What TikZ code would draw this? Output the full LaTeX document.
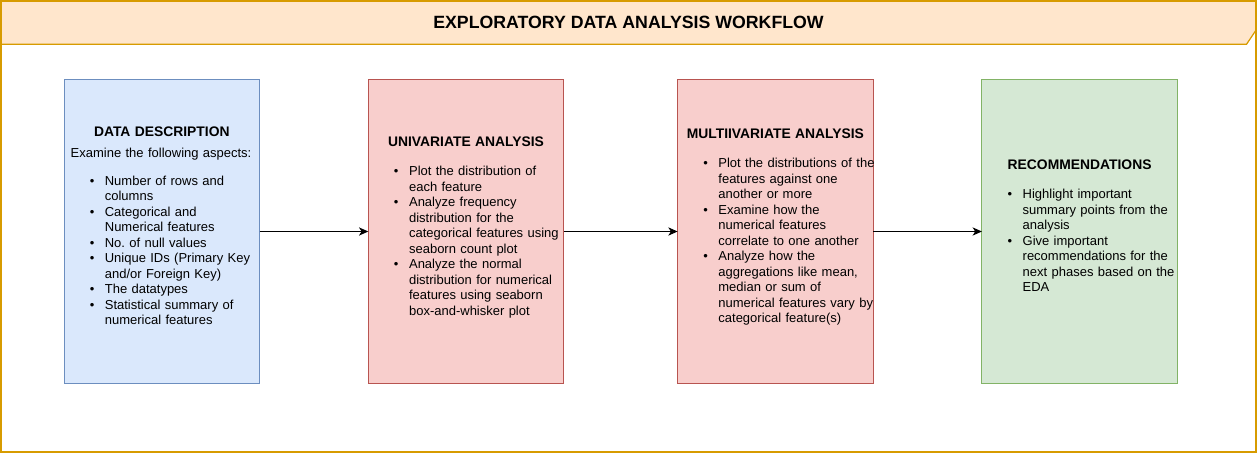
\documentclass[tikz,border=0pt]{standalone}
\usepackage{fontspec}
\setmainfont{Liberation Sans}
\usepackage{xcolor}
\usepackage{tikz}
\usetikzlibrary{positioning, arrows.meta}
\definecolor{headfill}{HTML}{FFE6CC}
\definecolor{headline}{HTML}{D79B00}
\definecolor{bluefill}{HTML}{DAE8FC}
\definecolor{blueline}{HTML}{6C8EBF}
\definecolor{redfill}{HTML}{F8CECC}
\definecolor{redline}{HTML}{B85450}
\definecolor{greenfill}{HTML}{D5E8D4}
\definecolor{greenline}{HTML}{82B366}
\frenchspacing
\newcommand{\edastrut}{\rule[-2.44pt]{0pt}{11.6pt}}
\newcommand{\edahead}[1]{{\centering\bfseries\fontsize{10.4pt}{11.625pt}\selectfont\edastrut#1\par}}
\newcommand{\edaitem}{\par\noindent\llap{\textbullet\hspace{7.9pt}}}

\begin{document}
\begin{tikzpicture}[x=0.75pt, y=-0.75pt,
    stagebox/.style={rectangle, minimum width=146.6pt, minimum height=228pt,
          inner sep=0pt, outer sep=0pt, line width=0.75pt},
    stagetext/.style={text width=150pt, align=left, inner sep=0pt,
          font=\fontsize{9.75pt}{11.625pt}\selectfont, text=black},
    flow/.style={-{Stealth[length=7pt, width=6.2pt, inset=2pt]}, line width=0.75pt}]
    \useasboundingbox (0,0) rectangle (1257,453);
    % frame with notched title bar
    \filldraw[fill=headfill, draw=headline, line width=0.9pt]
      (0.6,0.6) -- (1256.4,0.6) -- (1256.4,29.5) -- (1246.5,44.3) -- (0.6,44.3) -- cycle;
    \draw[headline, line width=1.2pt] (0.8,0.8) rectangle (1256.2,452.2);
    \node[inner sep=0pt, font=\fontsize{13.3pt}{15pt}\selectfont\bfseries] (title)
      at (628.5,22) {EXPLORATORY DATA ANALYSIS WORKFLOW};

    % the four stages
    \node[stagebox, fill=bluefill, draw=blueline] (desc) at (161.8,231.5) {};
    \node[stagebox, fill=redfill, draw=redline, right=81.56pt of desc] (uni) {};
    \node[stagebox, fill=redfill, draw=redline, right=85.4pt of uni] (multi) {};
    \node[stagebox, fill=greenfill, draw=greenline, right=81.6pt of multi] (recom) {};

    \node[stagetext] (desctext) at ([yshift=4pt]desc.center) {%
      \edahead{DATA DESCRIPTION}\vspace{3.75pt}
      \leftskip=6.7pt Examine the following aspects:\par\vspace{9.4pt}
      \leftskip=32.3pt
      \edaitem Number of rows and\\ columns
      \edaitem Categorical and\\ Numerical features
      \edaitem No. of null values
      \edaitem Unique IDs (Primary Key\\ and/or Foreign Key)
      \edaitem The datatypes
      \edaitem Statistical summary of\\ numerical features\edastrut\par};
    \node[stagetext] (unitext) at ([yshift=4pt]uni.center) {%
      \edahead{UNIVARIATE ANALYSIS}\vspace{10.35pt}
      \leftskip=32.3pt
      \edaitem Plot the distribution of\\ each feature
      \edaitem Analyze frequency\\ distribution for the\\ categorical features using\\ seaborn count plot
      \edaitem Analyze the normal\\ distribution for numerical\\ features using seaborn\\ box-and-whisker plot\edastrut\par};
    \node[stagetext] (multitext) at ([yshift=4pt]multi.center) {%
      \edahead{MULTIIVARIATE ANALYSIS}\vspace{10.35pt}
      \leftskip=32.3pt
      \edaitem Plot the distributions of the\\ features against one\\ another or more
      \edaitem Examine how the\\ numerical features\\ correlate to one another
      \edaitem Analyze how the\\ aggregations like mean,\\ median or sum of\\ numerical features vary by\\ categorical feature(s)\edastrut\par};
    \node[stagetext] (recomtext) at ([yshift=4pt]recom.center) {%
      \edahead{RECOMMENDATIONS}\vspace{10.35pt}
      \leftskip=32.3pt
      \edaitem Highlight important\\ summary points from the\\ analysis
      \edaitem Give important\\ recommendations for the\\ next phases based on the\\ EDA\edastrut\par};

    \draw[flow] (desc) -- (uni);
    \draw[flow] (uni) -- (multi);
    \draw[flow] (multi) -- (recom);
  \end{tikzpicture}
\end{document}
